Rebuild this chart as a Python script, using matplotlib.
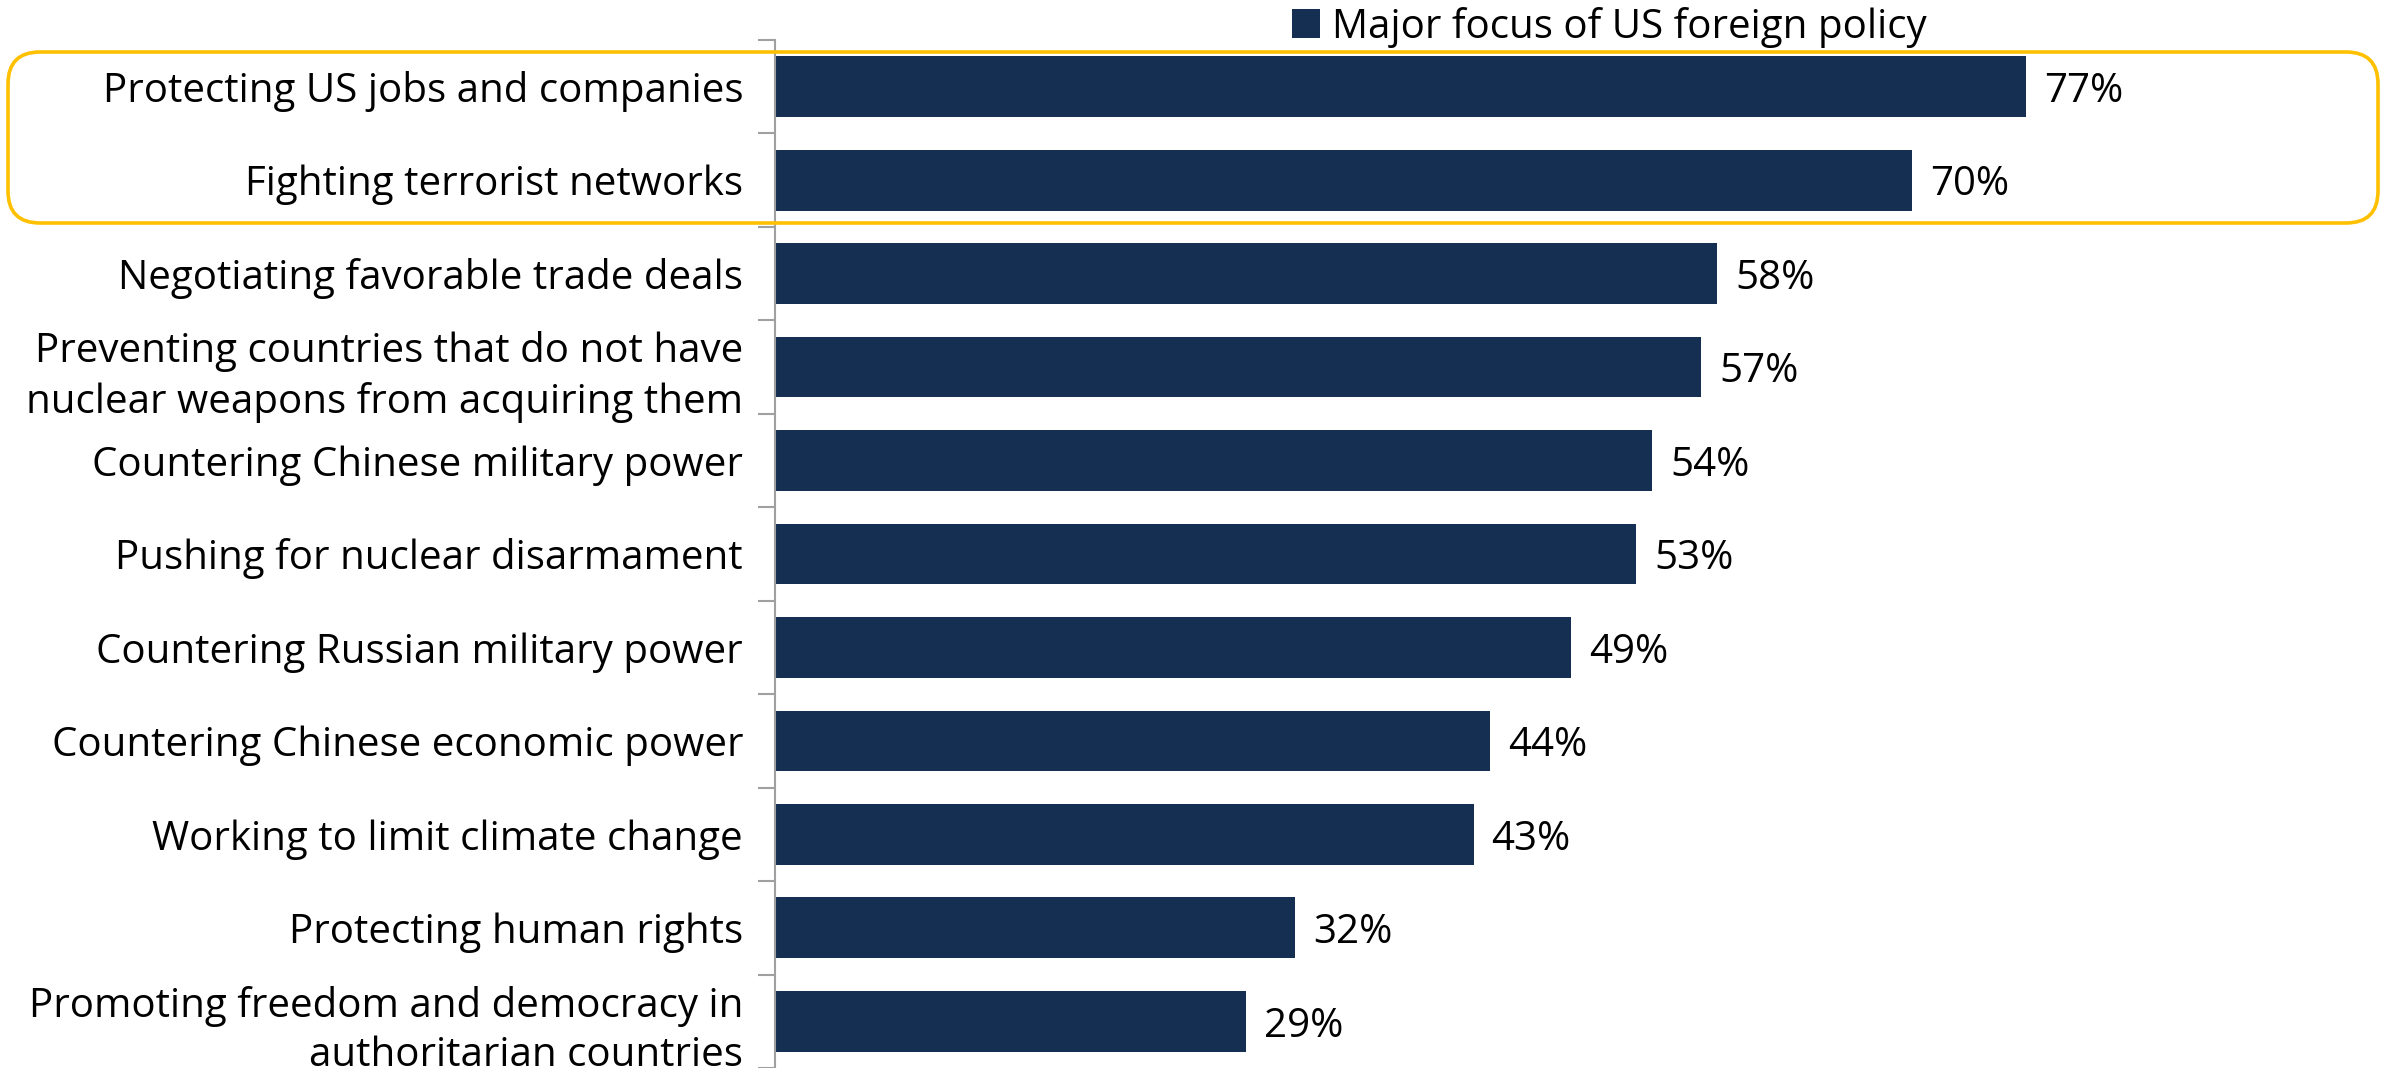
import matplotlib
matplotlib.use("Agg")
import matplotlib.pyplot as plt
from matplotlib.patches import Patch, FancyBboxPatch

categories = [
    "Protecting US jobs and companies",
    "Fighting terrorist networks",
    "Negotiating favorable trade deals",
    "Preventing countries that do not have\nnuclear weapons from acquiring them",
    "Countering Chinese military power",
    "Pushing for nuclear disarmament",
    "Countering Russian military power",
    "Countering Chinese economic power",
    "Working to limit climate change",
    "Protecting human rights",
    "Promoting freedom and democracy in\nauthoritarian countries",
]
values = [77, 70, 58, 57, 54, 53, 49, 44, 43, 32, 29]
series_name = "Major focus of US foreign policy"

BAR = "#152F52"
GOLD = "#FFC000"
FONT = "Open Sans"
FS = 29

W, H = 2382, 1068
fig = plt.figure(figsize=(W / 100, H / 100), dpi=100)
ax = fig.add_axes([775 / W, 0, 1 - 775 / W, 1 - 40 / H])

n = len(categories)
ypos = list(range(n))
ax.barh(ypos, values, height=0.65, color=BAR, zorder=2)
ax.set_ylim(n - 0.5, -0.5)
ax.set_xlim(0, 98.9)

for y, v in zip(ypos, values):
    ax.text(v + 1.1, y, f"{v}%", va="center_baseline", ha="left", fontsize=FS,
            family=FONT, color="black")

ax.set_yticks(ypos)
ax.set_yticklabels(categories, fontsize=FS, family=FONT, linespacing=1.31)
ax.tick_params(axis="y", length=0, pad=23)
ax.set_yticks([i - 0.5 for i in range(n + 1)], minor=True)
ax.tick_params(axis="y", which="minor", length=12, color="#A0A0A0", width=1.5)
ax.set_xticks([])
for s in ["top", "right", "bottom"]:
    ax.spines[s].set_visible(False)
ax.spines["left"].set_color("#A0A0A0")
ax.spines["left"].set_linewidth(1.5)

leg = fig.legend(handles=[Patch(facecolor=BAR, label=series_name)],
                 loc="center left", bbox_to_anchor=(1292 / W, 1 - 27 / H),
                 frameon=False, borderpad=0, borderaxespad=0,
                 handlelength=0.7, handleheight=0.7, handletextpad=0.3,
                 prop={"family": FONT, "size": FS})

box = FancyBboxPatch((8 / 100, (H - 223) / 100), (2378 - 8) / 100, (223 - 52) / 100,
                     boxstyle="round,pad=0,rounding_size=0.32",
                     transform=fig.dpi_scale_trans, fill=False,
                     edgecolor=GOLD, linewidth=2.6, zorder=5)
fig.patches.append(box)

fig.savefig("out.png", dpi=100)
